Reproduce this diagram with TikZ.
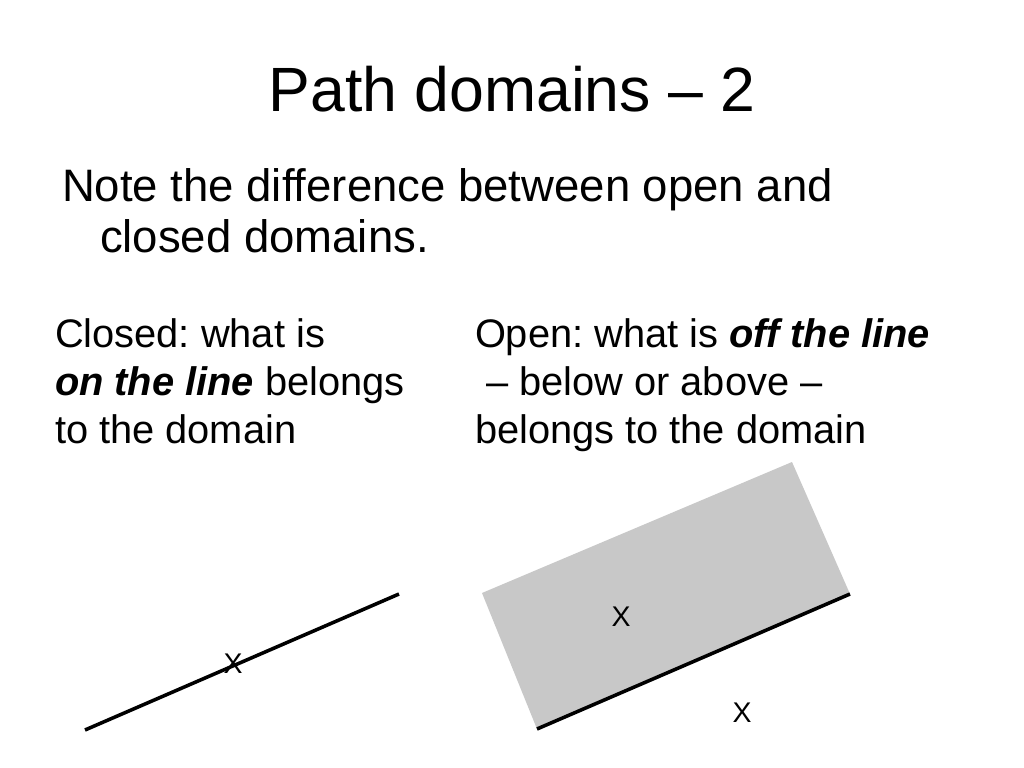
\documentclass[tikz,border=0pt]{standalone}
\usepackage{fontspec}
\setmainfont{Liberation Sans}
\frenchspacing
\begin{document}
\begin{tikzpicture}[x=0.703125pt,y=-0.703125pt,
  txt/.style={inner sep=0pt,outer sep=0pt,anchor=base west},
  ttl/.style={inner sep=0pt,anchor=base,font=\fontsize{44}{52.8}\selectfont},
  bul/.style={txt,font=\fontsize{32}{38.4}\selectfont},
  col/.style={txt,font=\fontsize{28}{33.6}\selectfont},
  xmark/.style={inner sep=0pt,anchor=center,font=\fontsize{20}{24}\selectfont},
  domline/.style={line width=2.5pt,black},
  domfill/.style={fill={rgb,255:red,200;green,200;blue,200},draw=none}]
\useasboundingbox[fill=white] (0,0) rectangle (1024,768);
\node[ttl] (title) at (512,112) {Path domains – 2};
\node[bul] (b1) at (62,202) {Note the difference between open and};
\node[bul] (b2) at (100,253) {closed domains.};
\node[col] (l1) at (55,348) {Closed: what is};
\node[col] (l2) at (55,395) {\textbf{\textit{on the line}} belongs};
\node[col] (l3) at (55,443) {to the domain};
\node[col] (r1) at (475,348) {Open: what is \textbf{\textit{off the line}}};
\node[col] (r2) at (475,395) {\ – below or above –};
\node[col] (r3) at (475,443) {belongs to the domain};
% closed domain
\coordinate (ca) at (85,730);
\coordinate (cb) at (399,594);
\draw[domline] (ca) -- (cb);
\node[xmark] (cx) at (233,664) {X};
% open domain
\coordinate (p1) at (482,593);
\coordinate (p2) at (792,462);
\coordinate (p3) at (850,594);
\coordinate (p4) at (537,729);
\fill[domfill] (p1) -- (p2) -- (p3) -- (p4) -- cycle;
\draw[domline] (p4) -- (p3);
\node[xmark] (ox1) at (621,617) {X};
\node[xmark] (ox2) at (742,713) {X};
\end{tikzpicture}
\end{document}
